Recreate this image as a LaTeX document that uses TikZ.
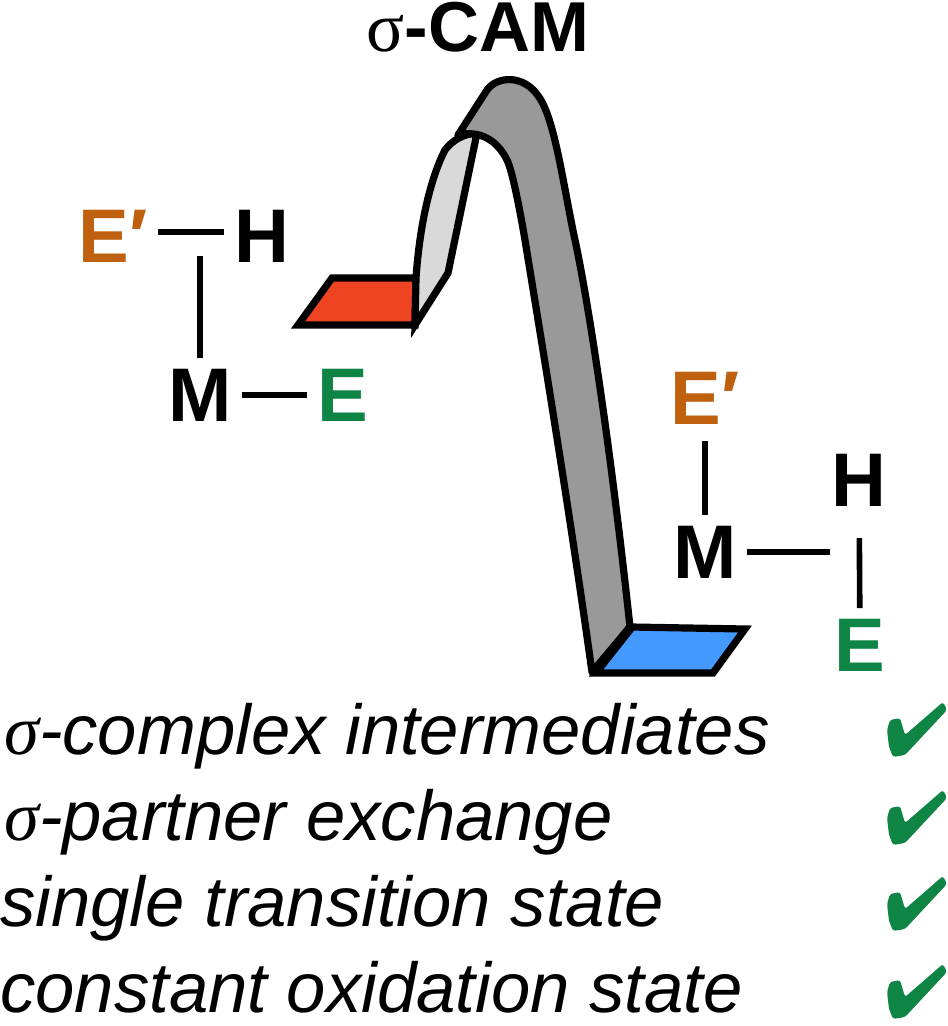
\documentclass[tikz,border=0pt]{standalone}
\usepackage{fontspec}
\setmainfont{Liberation Sans}
\newfontfamily\sigmafont{Liberation Serif}
\definecolor{eporange}{HTML}{BF600F}
\definecolor{egreen}{HTML}{0F8545}
\definecolor{redstep}{HTML}{EE4422}
\definecolor{bluestep}{HTML}{4499FF}
\definecolor{ribbondark}{HTML}{999999}
\definecolor{ribbonlight}{HTML}{D9D9D9}
\tikzset{
    atom/.style={font=\fontsize{57}{57}\selectfont\bfseries, inner sep=0pt, outer sep=8pt},
    bond/.style={line width=4.2pt},
    outline/.style={line width=5.4pt, line join=miter, miter limit=6},
    feature/.style={font=\fontsize{53}{53}\selectfont\itshape, anchor=base west, inner sep=0pt}
}
\begin{document}
\begin{tikzpicture}[x=.75pt, y=-.75pt]
	\useasboundingbox (0,0) rectangle (948,1026);
	
	\node (top) [font=\fontsize{53}{54}\selectfont\bfseries, anchor=base] at (478,51) {{\sigmafont\mdseries σ}-CAM};
	
	% energy profile
	\draw[outline, fill=redstep] (332,278) -- (416,278) -- (415,325) -- (298,325) -- cycle;
	\draw[outline, fill=ribbonlight] (416,278) .. controls (420,220) and (432,175) .. (445,150)
		.. controls (452,141) and (462,134) .. (477,133) -- (448,273) -- (415,325) -- cycle;
	\draw[outline, fill=ribbondark, line join=round] (458,135) -- (487,90) .. controls (497,76) and (524,74) .. (539,97)
		.. controls (555,120) and (563,184) .. (575,240) .. controls (590,310) and (612,460) .. (630,627)
		-- (592,672) .. controls (568,500) and (538,320) .. (525,240)
		.. controls (519,205) and (512,170) .. (507,160) .. controls (497,140) and (480,130) .. (458,135) -- cycle;
	\draw[outline, fill=bluestep] (631,627) -- (745,629) -- (713,673) -- (596,673) -- cycle;
	\draw[line width=7pt] (631,627) -- (596,671);
	
	% left complex
	\node (ep1) [atom, text=eporange] at (113,236) {E′};
	\node (h1) [atom] at (262,236) {H};
	\node (m1) [atom] at (200,395) {M};
	\node (e1) [atom, text=egreen] at (343,395) {E};
	\coordinate (c1) at (200,256);
	\draw[bond] ([yshift=3pt]ep1.east) -- ([yshift=3pt]h1.west);
	\draw[bond] (m1) -- (c1);
	\draw[bond] (m1) -- (e1);
	
	% right complex
	\node (ep2) [atom, text=eporange] at (705,398) {E′};
	\node (m2) [atom] at (705,552) {M};
	\node (h2) [atom] at (859,480) {H};
	\node (e2) [atom, text=egreen] at (860,645) {E};
	\coordinate (c2) at (830,552);
	\draw[bond, shorten <=5pt] (ep2) -- (m2);
	\draw[bond] (m2) -- (c2);
	\draw[bond, shorten <=16pt] (h2) -- (e2);
	
	\node (f1) [feature] at (4,754) {{\sigmafont σ}-complex intermediates};
	\node (f2) [feature] at (4,840) {{\sigmafont σ}-partner exchange};
	\node (f3) [feature] at (0,926) {single transition state};
	\node (f4) [feature] at (0,1012) {constant oxidation state};
	
	\foreach \dy in {0,88,174,262} {
		\fill[egreen, rounded corners=2pt, shift={(0,\dy)}] (887,730) -- (890,720) -- (900,718) -- (905,735)
			-- (943,702) -- (947,710) -- (905,755) -- (893,757) -- (889,747) -- cycle;
	}
\end{tikzpicture}
\end{document}
